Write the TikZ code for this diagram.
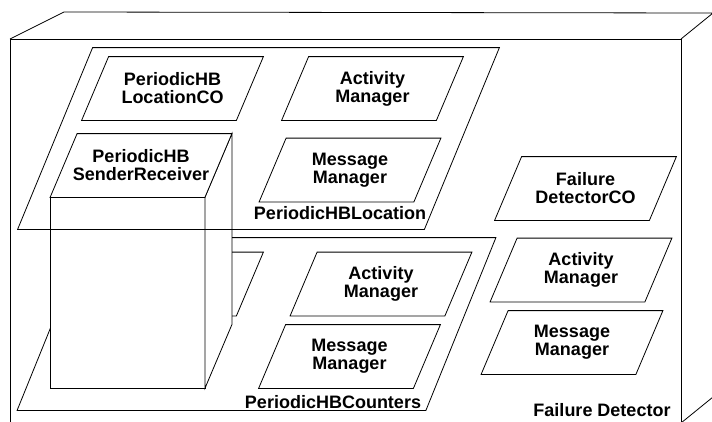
\documentclass[tikz,border=0pt]{standalone}
\usepackage{fontspec}
\setmainfont{Liberation Sans}

% slanted outline round a node: \slab[options]{node}{half slant}
\newcommand{\slab}[3][]{%
  \draw[#1] ([xshift=-#3pt]#2.south west) -- ([xshift=#3pt]#2.north west)
    -- ([xshift=#3pt]#2.north east) -- ([xshift=-#3pt]#2.south east) -- cycle;}

\tikzset{
  comp/.style = {minimum width=154pt, minimum height=63pt, inner sep=0pt,
    align=center, font=\fontsize{18}{18}\selectfont\bfseries},
  plane/.style = {inner sep=0pt},
  title/.style = {inner sep=0pt, font=\fontsize{18}{18}\selectfont\bfseries},
}

\begin{document}
\begin{tikzpicture}[x=1pt, y=-1pt, line width=0.8pt]
\useasboundingbox (0,0) rectangle (712,421);
\clip (0,0) rectangle (712,421);

% outer box
\coordinate (ftl) at (10,39);
\coordinate (ftr) at (681,39);
\coordinate (fbl) at (10,423);
\coordinate (fbr) at (681,423);
\coordinate (btl) at (64,12);
\coordinate (btr) at (713,13);
\coordinate (bbr) at (713,397);
\draw (fbl) -- (ftl) -- (ftr) -- (fbr);
\draw (ftl) -- (btl) -- (btr) -- (ftr);
\draw (btr) -- (bbr) -- (fbr);

% PeriodicHBCounters
\node[plane, minimum width=408pt, minimum height=172pt] (cntplane) at (256.5,324) {};
\slab{cntplane}{35}
\node[title] (cnttitle) at (333,402) {PeriodicHBCounters};
\node[comp] (cntco) at (172.5,284) {};
\node[comp] (cntam) at (381,284) {Activity\\Manager};
\node[comp] (cntmm) at (349.5,356.5) {Message\\Manager};
\slab{cntco}{13.5}
\slab{cntam}{13.5}
\slab{cntmm}{13.5}

% PeriodicHB SenderReceiver box
\node[comp] (sr) at (141,165.5) {};
\coordinate (srtl) at ([xshift=-13.5pt]sr.south west);
\coordinate (srtr) at ([xshift=-13.5pt]sr.south east);
\coordinate (srbr) at ([xshift=13.5pt]sr.north east);
\draw[fill=white] (srtl) -- ([yshift=-191pt]srtl) -- ([yshift=-191pt]srtr) -- (srtr) -- cycle;
\draw[fill=white] (srtr) -- ([yshift=-191pt]srtr) -- ([yshift=-191pt]srbr) -- (srbr) -- cycle;
\slab[fill=white]{sr}{13.5}
\node[comp] (srtext) at (sr) {PeriodicHB\\SenderReceiver};

% PeriodicHBLocation
\node[plane, minimum width=406pt, minimum height=181pt] (locplane) at (258.5,138.5) {};
\slab{locplane}{37.5}
\node[title] (loctitle) at (340,213) {PeriodicHBLocation};
\node[comp] (locco) at (172.5,88.5) {PeriodicHB\\LocationCO};
\node[comp] (locam) at (372.5,88.5) {Activity\\Manager};
\node[comp] (locmm) at (350,170) {Message\\Manager};
\slab{locco}{13.5}
\slab{locam}{13.5}
\slab{locmm}{13.5}

% Failure Detector
\node[title] (fdtitle) at (602,410) {Failure Detector};
\node[comp] (fdco) at (585.5,188.5) {Failure\\DetectorCO};
\node[comp] (fdam) at (581,270) {Activity\\Manager};
\node[comp] (fdmm) at (572,342.5) {Message\\Manager};
\slab{fdco}{13.5}
\slab{fdam}{13.5}
\slab{fdmm}{13.5}

\end{tikzpicture}
\end{document}
